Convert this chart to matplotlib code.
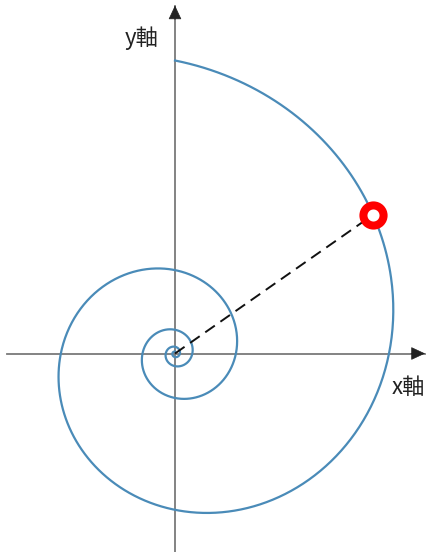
import numpy as np
import matplotlib.pyplot as plt

plt.rcParams['font.family'] = ['Noto Sans CJK JP', 'DejaVu Sans']

# logarithmic spiral r = r_end * exp(b * (theta - theta_end))
r_end = 293.0          # radius where the spiral meets the y axis (top)
theta_end = np.pi / 2  # spiral ends on the positive y axis
growth_b = 0.2         # radius grows x3.5 per turn
n_turns = 4.0

# marked point on the spiral
theta_point = 0.611

# axis extents (same units as radius)
x_range = [-168, 250]
y_range = [-198, 348]
labels = ["x軸", "y軸"]

theta = np.linspace(theta_end - n_turns * 2 * np.pi, theta_end, 2000)
r = r_end * np.exp(growth_b * (theta - theta_end))
xs = r * np.cos(theta)
ys = r * np.sin(theta)

r_p = r_end * np.exp(growth_b * (theta_point - theta_end))
px, py = r_p * np.cos(theta_point), r_p * np.sin(theta_point)

fig = plt.figure(figsize=(4.26, 5.52), dpi=100)
ax = fig.add_axes([0, 0, 1, 1])
ax.set_xlim(-175, 251)
ax.set_ylim(-198.5, 353.5)
ax.set_aspect('equal')
ax.axis('off')

axis_col = "#7a7a7a"
ax.plot(x_range, [0, 0], color=axis_col, lw=1.3, zorder=1)
ax.plot([0, 0], y_range, color=axis_col, lw=1.3, zorder=1)
ax.annotate("", xy=(x_range[1], 0), xytext=(x_range[1] - 14, 0),
            arrowprops=dict(arrowstyle="-|>,head_length=0.9,head_width=0.42",
                            color="#222222", lw=0.5, shrinkA=0, shrinkB=0))
ax.annotate("", xy=(0, y_range[1]), xytext=(0, y_range[1] - 14),
            arrowprops=dict(arrowstyle="-|>,head_length=0.9,head_width=0.42",
                            color="#222222", lw=0.5, shrinkA=0, shrinkB=0))

ax.plot(xs, ys, color="#4a8bb8", lw=1.6, zorder=2)
ax.plot([0, px], [0, py], color="#111111", lw=1.4, ls=(0, (6, 3.5)), zorder=3)
ax.plot([px], [py], marker="o", ms=14.5, mfc="white", mec="#ff0000", mew=5.8, zorder=4)

ax.text(233, -34, labels[0], fontsize=16, color="#222222", ha="center", va="center")
ax.text(-33, 315, labels[1], fontsize=16, color="#222222", ha="center", va="center")

fig.savefig("out.png", dpi=100)
